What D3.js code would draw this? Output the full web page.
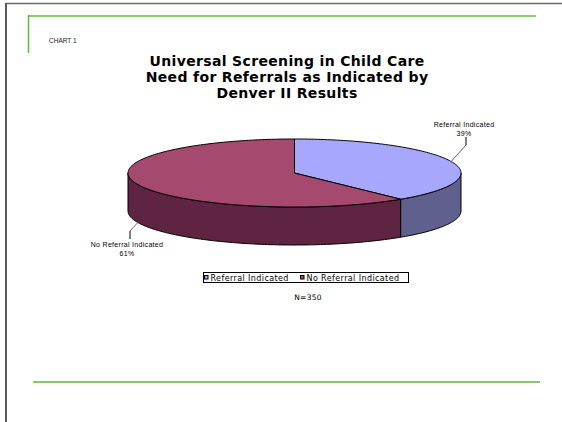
<!DOCTYPE html>
<html>
<head>
<meta charset="utf-8">
<script src="https://cdn.jsdelivr.net/npm/d3@7"></script>
<style>
  body { margin: 0; background: #fff; }
  svg { display: block; }
</style>
</head>
<body>
<div id="chart"></div>
<script>
// data
const categories = ["Referral Indicated", "No Referral Indicated"];
const shares = [39, 61];
const pctLabels = ["39%", "61%"];
const titleLines = ["Universal Screening in Child Care", "Need for Referrals as Indicated by", "Denver II Results"];
const sampleNote = "N=350";

const topColors = ["#a7a8fd", "#a6496f"];
const sideColors = ["#60608f", "#5e2441"];
const leaderColors = ["#5f5fa8", "#a6496f"];

const W = 562, H = 422;

const svg = d3.select("#chart").append("svg")
  .attr("width", W)
  .attr("height", H);

// page frame
svg.append("line").attr("x1", 5).attr("x2", W).attr("y1", 3.5).attr("y2", 3.5)
  .attr("stroke", "#6b6b6b").attr("stroke-width", 1.5);
svg.append("line").attr("x1", 6).attr("x2", 6).attr("y1", 3).attr("y2", H)
  .attr("stroke", "#5a5a5a").attr("stroke-width", 2);
svg.append("line").attr("x1", 28).attr("x2", 536).attr("y1", 16).attr("y2", 16)
  .attr("stroke", "#8dcb6f").attr("stroke-width", 2);
svg.append("line").attr("x1", 28.5).attr("x2", 28.5).attr("y1", 15).attr("y2", 53)
  .attr("stroke", "#5cbb3a").attr("stroke-width", 1.5);
svg.append("line").attr("x1", 33).attr("x2", 540).attr("y1", 382).attr("y2", 382)
  .attr("stroke", "#8dc672").attr("stroke-width", 2);

svg.append("text")
  .attr("x", 49).attr("y", 43)
  .attr("font-family", "Liberation Sans, Arial, sans-serif")
  .attr("font-size", 6.5)
  .attr("fill", "#222")
  .text("CHART 1");

// title
svg.append("g").selectAll("text")
  .data(titleLines)
  .enter().append("text")
    .attr("x", 287)
    .attr("y", (d, i) => 66 + i * 16)
    .attr("text-anchor", "middle")
    .attr("font-family", "DejaVu Sans, Verdana, sans-serif")
    .attr("font-weight", "bold")
    .attr("font-size", 14)
    .attr("letter-spacing", 0.35)
    .attr("fill", "#000")
    .text(d => d);

// 3d pie
const cx = 294.5, cy = 173, rx = 166.5, ry = 34, depth = 38;
const pt = (a, dy = 0) => [cx + rx * Math.sin(a), cy - ry * Math.cos(a) + dy];

const pie = d3.pie().sort(null).value(d => d);
const arcs = pie(shares);

const line = d3.line();
const arcPts = (a0, a1, dy) => {
  const n = Math.max(2, Math.ceil(Math.abs(a1 - a0) / 0.02));
  return d3.range(n + 1).map(i => pt(a0 + (a1 - a0) * i / n, dy));
};

const g = svg.append("g");

// side walls: only the front half (pi/2 .. 3pi/2) shows
arcs.forEach((a, i) => {
  const s = Math.max(a.startAngle, Math.PI / 2);
  const e = Math.min(a.endAngle, Math.PI * 3 / 2);
  if (e <= s) return;
  const pts = arcPts(s, e, 0).concat(arcPts(e, s, depth));
  g.append("path")
    .attr("d", line(pts) + "Z")
    .attr("fill", sideColors[i])
    .attr("stroke", "#000")
    .attr("stroke-width", 1)
    .attr("stroke-linejoin", "round");
});

// top faces
arcs.forEach((a, i) => {
  const pts = [[cx, cy]].concat(arcPts(a.startAngle, a.endAngle, 0));
  g.append("path")
    .attr("d", line(pts) + "Z")
    .attr("fill", topColors[i])
    .attr("stroke", "#000")
    .attr("stroke-width", 1)
    .attr("stroke-linejoin", "round");
});

// leader lines and labels
const labelSpots = [
  { elbow: [466, 145], end: [466, 137], tx: 464, ty: 127 },
  { elbow: [130, 231], end: [130, 239], tx: 127, ty: 247 }
];

arcs.forEach((a, i) => {
  const mid = (a.startAngle + a.endAngle) / 2;
  const front = Math.cos(mid) < 0;
  const p = pt(mid, front ? depth : 0);
  const s = labelSpots[i];
  g.append("line")
    .attr("x1", p[0]).attr("y1", p[1])
    .attr("x2", s.elbow[0]).attr("y2", s.elbow[1])
    .attr("stroke", leaderColors[i]).attr("stroke-width", 1);
  g.append("line")
    .attr("x1", s.elbow[0]).attr("y1", s.elbow[1])
    .attr("x2", s.end[0]).attr("y2", s.end[1])
    .attr("stroke", "#000").attr("stroke-width", 1);
  const t = g.append("text")
    .attr("text-anchor", "middle")
    .attr("font-family", "Liberation Sans, Arial, sans-serif")
    .attr("font-size", 7)
    .attr("letter-spacing", 0.3)
    .attr("fill", "#000");
  t.append("tspan").attr("x", s.tx).attr("y", s.ty).text(categories[i]);
  t.append("tspan").attr("x", s.tx).attr("y", s.ty + 9).text(pctLabels[i]);
});

// legend
const legend = svg.append("g");
legend.append("rect")
  .attr("x", 203.5).attr("y", 272.5)
  .attr("width", 205).attr("height", 10)
  .attr("fill", "#fff").attr("stroke", "#000").attr("stroke-width", 1);

const legendX = [204.5, 300.5];
categories.forEach((c, i) => {
  legend.append("rect")
    .attr("x", legendX[i]).attr("y", 275.5)
    .attr("width", 3.5).attr("height", 3.5)
    .attr("fill", topColors[i]).attr("stroke", "#000").attr("stroke-width", 1);
  legend.append("text")
    .attr("x", legendX[i] + 6).attr("y", 280.5)
    .attr("font-family", "DejaVu Sans, Verdana, sans-serif")
    .attr("font-size", 8)
    .attr("letter-spacing", 0.4)
    .attr("fill", "#000")
    .text(c);
});

svg.append("text")
  .attr("x", 308).attr("y", 300)
  .attr("text-anchor", "middle")
  .attr("font-family", "DejaVu Sans, Verdana, sans-serif")
  .attr("font-size", 7.5)
  .attr("letter-spacing", 0.3)
  .attr("fill", "#000")
  .text(sampleNote);
</script>
</body>
</html>
